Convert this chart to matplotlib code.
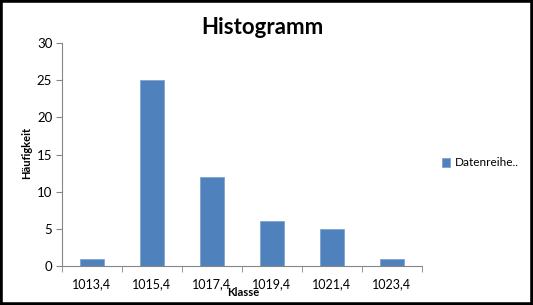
import matplotlib
matplotlib.use("Agg")
import matplotlib.pyplot as plt
from matplotlib.patches import Rectangle

# Daten
klassen = ["1013,4", "1015,4", "1017,4", "1019,4", "1021,4", "1023,4"]
haeufigkeit = [1, 25, 12, 6, 5, 1]

plt.rcParams['font.family'] = ['Lato', 'DejaVu Sans']

fig = plt.figure(figsize=(5.33, 3.05), dpi=100)
ax = fig.add_axes([62 / 533, 1 - 266 / 305, 360 / 533, 223 / 305])

pos = list(range(len(klassen)))
bars = ax.bar(pos, haeufigkeit, width=0.4, color="#4F81BD", edgecolor="#7FA3D0",
              linewidth=0.6, label="Datenreihe..")

ax.set_xlim(-0.5, len(klassen) - 0.5)
ax.set_ylim(0, 30)
ax.set_yticks(range(0, 31, 5))
ax.set_xticks(pos)
ax.set_xticklabels(klassen, fontsize=9)
ax.set_xticks([p - 0.5 for p in pos] + [len(klassen) - 0.5], minor=True)
ax.tick_params(axis="x", which="major", length=0, pad=9)
ax.tick_params(axis="x", which="minor", length=4, color="#868686", direction="out")
ax.tick_params(axis="y", length=4, color="#868686", labelsize=9.5, pad=3)

for s in ["top", "right"]:
    ax.spines[s].set_visible(False)
for s in ["left", "bottom"]:
    ax.spines[s].set_color("#868686")
    ax.spines[s].set_linewidth(0.8)

fig.text(262 / 533, 1 - 28 / 305, "Histogramm", fontsize=16, fontweight="bold",
         ha="center", va="center")
fig.text(243 / 533, 1 - 293 / 305, "Klasse", fontsize=8, fontweight="bold",
         ha="center", va="center")
fig.text(27 / 533, 1 - 153 / 305, "Häufigkeit", fontsize=8, fontweight="bold",
         ha="center", va="center", rotation=90)

fig.legend(handles=[bars], labels=["Datenreihe.."], loc="center left",
           bbox_to_anchor=(442 / 533, 1 - 163 / 305), frameon=False,
           fontsize=8.5, handlelength=0.7, handleheight=0.7, handletextpad=0.4,
           borderpad=0, borderaxespad=0)

# schwarzer Rahmen
fig.patches.append(Rectangle((0, 0), 1, 1, transform=fig.transFigure, fill=False,
                             edgecolor="black", linewidth=4, zorder=10))

fig.savefig("out.png", dpi=100)
